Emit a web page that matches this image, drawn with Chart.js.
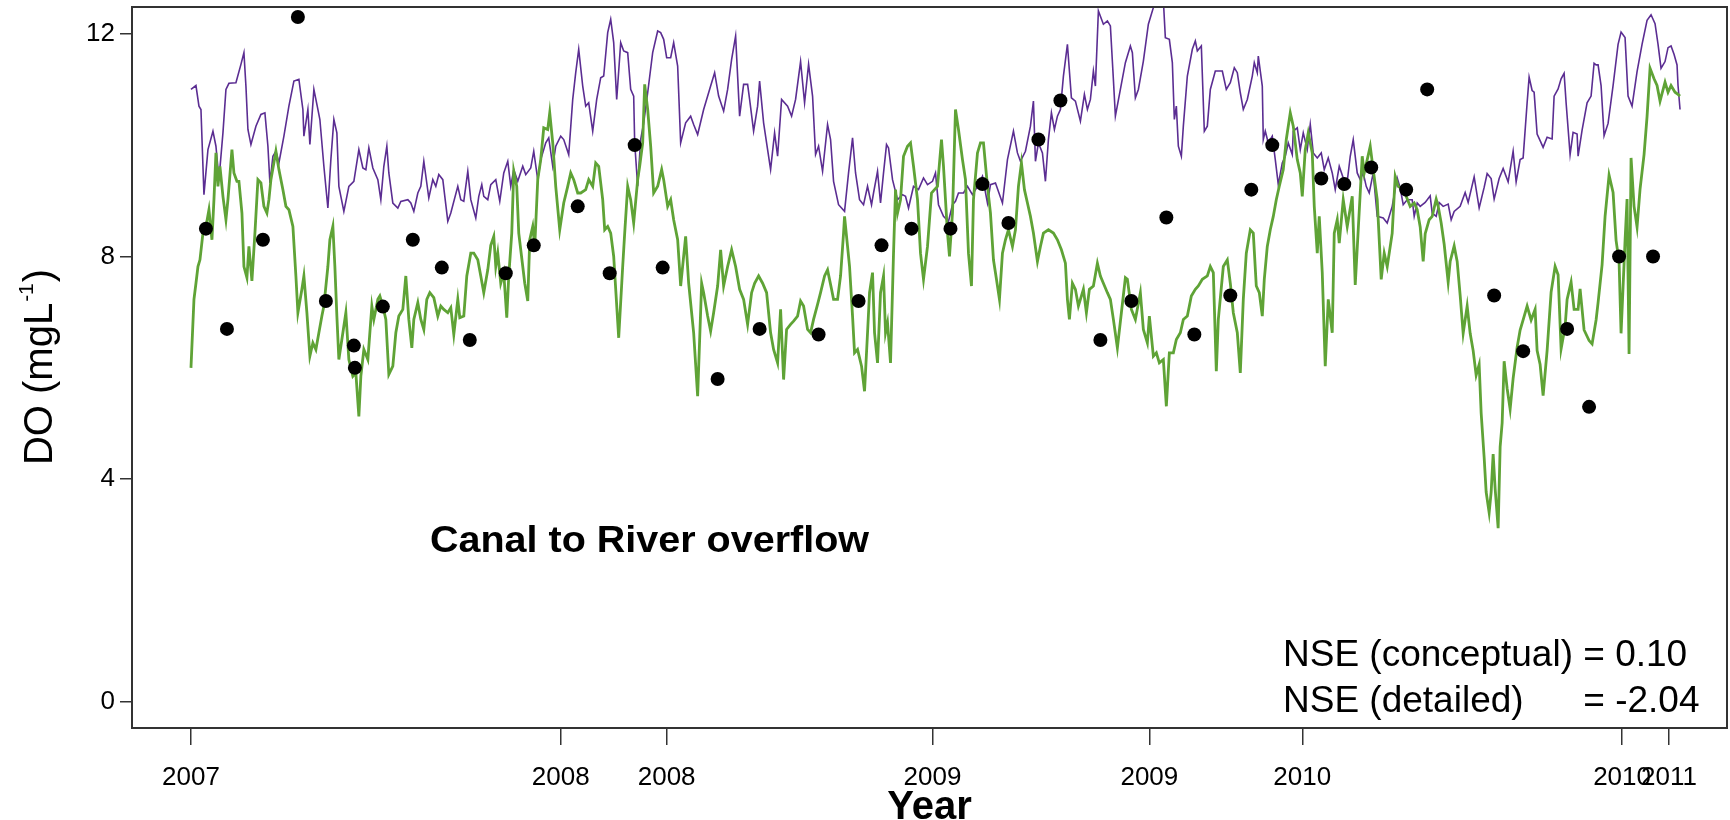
<!DOCTYPE html>
<html>
<head>
<meta charset="utf-8">
<title>DO - Canal to River overflow</title>
<script src="https://cdn.jsdelivr.net/npm/chart.js@4.4.1/dist/chart.umd.min.js"></script>
<style>
  html, body { margin: 0; padding: 0; background: #fff; }
  canvas { display: block; }
</style>
</head>
<body>
<canvas id="doChart" width="1730" height="820"></canvas>
<script>
// days since 1 Jan 2007
const tickDays = [0, 370, 476, 742, 959, 1112, 1432, 1479];
const tickLabels = ['2007', '2008', '2008', '2009', '2009', '2010', '2010', '2011'];
const yTicks = [0, 4, 8, 12];

// purple line (conceptual model)
const conceptualDay = [
  0,5,8,10,13,17,22,25,28,32,35,38,45,50,53,55,57,60,65,70,74,77,79,82,85,88,93,98,103,108,112,113,117,119,123,127,129,133,137,140,143,146,148,153,158,163,168,172,175,178,182,187,190,193,196,198,202,207,210,217,220,223,227,230,233,238,242,245,248,252,257,260,267,270,273,277,280,285,288,291,293,297,
  300,305,309,313,317,320,323,327,332,335,340,343,347,350,355,358,362,365,370,373,378,382,385,388,392,395,398,402,406,410,413,417,420,423,426,430,433,437,440,443,444,447,450,453,457,462,467,470,473,476,480,483,487,490,495,500,503,507,513,520,524,528,533,537,541,545,549,553,557,559,563,567,569,573,577,580,584,587,591,597,601,605,
  610,614,618,622,625,628,632,637,640,643,648,654,658,662,665,669,673,677,681,683,687,690,693,696,698,702,707,712,715,718,723,728,733,737,742,745,748,753,758,762,765,768,773,777,782,787,792,797,800,805,812,817,823,827,830,835,840,843,845,848,852,855,858,861,864,867,870,873,877,881,885,890,894,897,900,903,905,908,913,917,
  920,923,925,930,935,940,942,945,948,953,958,963,970,973,975,979,982,984,986,988,991,993,997,1002,1005,1007,1011,1014,1017,1020,1025,1032,1036,1040,1044,1047,1050,1053,1057,1062,1064,1067,1068,1072,1073,1075,1078,1082,1085,1088,1092,1095,1098,1102,1103,1107,1110,1113,1117,1120,1123,1127,1131,1134,1138,1142,1145,1149,1153,1157,1160,1163,1167,1170,1173,1176,1179,1183,1187,1193,1197,1202,1207,1210,1213,1217,1222,1224,1227,
  1230,1235,1240,1242,1246,1249,1253,1258,1261,1264,1270,1275,1278,1284,1289,1294,1297,1301,1304,1309,1313,1318,1323,1326,1330,1333,1337,1339,1342,1344,1347,1350,1353,1357,1362,1364,1368,1371,1374,1376,1380,1383,1387,1388,1392,1397,1401,1404,1406,1408,1411,1414,1418,1423,1428,1431,1435,1438,1442,1447,1452,1457,1461,1465,1468,1471,1475,1478,1481,1484,1487,1488,1490
];
const conceptualDO = [
  11.00,11.07,10.70,10.64,9.11,9.92,10.25,9.98,9.38,10.22,11.00,11.11,11.12,11.45,11.66,11.06,10.28,10.01,10.34,10.55,10.58,9.98,9.32,9.80,9.89,9.68,10.16,10.70,11.15,11.18,10.64,10.16,10.64,10.01,11.00,10.64,10.46,9.62,8.87,9.74,10.46,10.22,9.26,8.81,9.26,9.35,9.92,9.59,9.56,9.95,9.59,9.38,9.02,9.62,9.98,9.50,8.96,8.87,8.99,9.02,8.96,8.81,9.14,9.26,9.71,9.05,9.38,9.26,9.47,9.38,8.63,8.78,9.26,9.02,8.99,9.53,9.02,8.69,9.08,9.29,9.08,9.02,
  9.29,9.38,8.99,9.50,9.71,9.26,9.56,9.35,9.62,9.47,9.59,9.89,9.38,9.74,10.04,10.13,9.62,9.98,10.16,10.10,9.83,10.82,11.30,11.72,11.06,10.70,10.76,10.25,10.82,11.21,11.24,12.02,12.26,11.84,10.82,11.84,11.69,11.66,11.00,10.88,10.04,9.26,10.10,10.40,10.94,11.66,12.05,12.02,11.90,11.57,11.57,11.84,11.42,10.04,10.40,10.52,10.37,10.19,10.64,11.06,11.30,10.88,10.61,11.00,11.54,11.96,10.52,11.09,11.09,10.82,10.25,10.70,11.15,10.40,9.92,9.56,10.22,9.80,10.82,10.70,10.52,10.82,
  11.50,10.76,11.45,10.88,9.83,9.98,9.53,10.37,10.10,9.35,8.93,8.81,9.50,10.13,9.50,9.02,8.93,9.26,8.93,9.14,9.53,8.96,9.50,10.01,9.95,9.38,9.02,9.11,9.08,8.87,9.26,9.20,9.41,9.29,9.35,9.50,8.93,8.72,8.63,8.93,8.99,9.14,9.14,9.26,9.11,9.26,9.44,8.96,9.29,9.32,8.96,9.74,10.25,9.86,9.71,9.89,10.34,10.79,9.71,10.04,9.86,9.35,10.10,10.58,10.28,10.52,10.64,11.24,11.81,10.85,10.79,10.43,10.91,10.64,10.82,11.33,11.06,12.41,12.17,12.23,
  12.14,11.18,10.52,11.00,11.48,11.78,11.66,10.85,11.00,11.51,12.17,12.47,12.60,12.60,11.93,11.90,11.48,10.46,10.70,9.98,9.80,10.34,11.24,11.72,11.87,11.69,11.78,10.25,10.34,11.00,11.33,11.33,11.00,11.12,11.39,11.30,10.94,10.64,10.82,11.24,11.48,11.30,11.60,11.06,10.10,10.25,10.04,10.16,9.74,9.29,9.68,9.80,10.04,9.83,10.25,10.31,9.92,10.22,9.92,10.37,9.86,9.77,9.86,9.56,9.77,9.50,9.20,9.62,9.41,9.35,9.80,10.10,9.50,9.38,9.50,9.26,9.14,9.50,8.72,8.69,8.60,8.90,9.41,9.23,8.93,9.02,9.02,8.72,8.96,
  8.90,8.97,9.09,8.78,8.72,8.97,8.90,8.94,8.66,8.81,8.90,9.15,8.97,9.43,8.87,9.24,9.49,9.40,9.03,9.40,9.58,9.34,9.89,9.34,9.74,9.77,10.76,11.22,10.98,10.95,10.20,10.08,9.96,10.14,10.11,10.88,11.01,11.19,11.29,10.76,9.83,10.23,10.20,9.80,10.27,10.76,10.88,11.47,11.44,11.44,11.07,10.17,10.39,11.07,11.81,12.03,11.93,10.88,10.70,11.32,11.81,12.24,12.34,12.18,11.81,11.38,11.50,11.75,11.78,11.63,11.44,11.07,10.64
];

// green line (detailed model)
const detailedDay = [
  0,3,5,7,9,12,15,18,21,23,25,27,29,32,35,37,41,43,46,48,51,53,56,58,61,64,67,70,73,76,78,80,85,88,92,95,98,102,105,107,111,113,116,119,122,125,128,131,133,137,139,142,144,146,148,152,155,158,162,165,168,170,173,177,181,183,187,189,192,195,198,202,205,208,212,215,218,221,223,227,230,233,236,239,243,247,250,253,257,260,263,267,269,273,276,280,283,287,290,293,297,
  300,303,305,307,310,313,316,318,321,323,326,328,332,334,337,339,342,344,347,350,353,357,359,362,365,369,373,377,380,383,387,390,395,398,402,405,408,412,414,417,420,423,428,432,434,437,440,443,447,449,452,454,457,460,463,467,471,473,477,480,483,487,490,495,498,503,507,511,513,517,520,523,527,530,533,537,541,545,549,553,557,561,564,568,572,576,580,583,587,590,593,596,600,603,607,
  610,613,617,620,623,627,630,634,637,641,643,647,650,653,654,657,659,662,664,667,671,674,677,679,682,684,687,690,693,695,697,700,703,705,707,710,713,717,720,723,727,730,733,737,741,744,747,751,753,757,759,762,765,768,772,775,778,781,783,787,790,793,797,800,803,806,809,812,815,818,822,825,828,831,834,837,840,843,847,850,853,858,863,867,871,875,877,879,882,885,888,893,896,899,903,907,910,913,917,
  920,923,927,931,935,937,941,945,950,953,957,959,963,966,969,973,976,979,983,986,990,993,997,1001,1005,1008,1012,1017,1020,1023,1026,1028,1033,1037,1040,1043,1047,1050,1053,1056,1060,1063,1066,1069,1072,1074,1077,1080,1083,1086,1089,1093,1096,1100,1103,1107,1110,1112,1115,1118,1122,1124,1127,1129,1132,1135,1138,1142,1144,1147,1149,1153,1157,1162,1165,1168,1172,1174,1177,1180,1183,1187,1191,1194,1197,1202,1205,1208,1213,1216,1220,1224,1227,
  1230,1233,1235,1239,1242,1246,1248,1251,1254,1258,1260,1264,1267,1270,1273,1277,1280,1283,1286,1289,1291,1294,1296,1299,1301,1303,1305,1308,1310,1312,1314,1317,1320,1323,1327,1330,1333,1337,1341,1345,1347,1350,1353,1357,1361,1365,1368,1371,1375,1377,1381,1384,1388,1390,1394,1399,1402,1406,1408,1412,1415,1419,1423,1426,1429,1431,1435,1437,1439,1441,1444,1447,1450,1454,1457,1460,1464,1467,1470,1475,1478,1481,1485,1488,1490
];
const detailedDO = [
  6.00,7.23,7.52,7.82,7.94,8.42,8.54,8.84,8.30,9.02,9.86,9.26,9.62,9.08,8.66,9.02,9.92,9.50,9.35,9.35,8.78,7.82,7.62,8.18,7.56,8.42,9.38,9.32,8.90,8.78,9.02,9.38,9.89,9.56,9.20,8.90,8.84,8.54,7.65,6.99,7.41,7.65,6.99,6.21,6.45,6.33,6.63,6.93,7.11,7.82,8.30,8.54,7.82,6.93,6.15,6.63,6.99,6.15,5.85,5.91,5.13,5.85,6.33,6.15,7.11,6.87,7.23,7.29,7.11,6.87,5.88,6.03,6.63,6.93,7.05,7.65,6.87,6.36,6.87,7.17,6.87,6.69,7.23,7.35,7.26,6.93,7.11,7.05,6.99,7.08,6.60,7.23,6.90,6.93,7.65,8.06,8.06,7.94,7.65,7.35,7.76,
  8.20,8.36,7.82,8.06,7.52,7.71,6.90,7.65,8.42,9.53,9.26,8.42,7.82,7.52,7.20,8.30,8.54,8.18,9.38,9.74,10.31,10.28,10.58,10.04,9.26,8.48,8.96,9.26,9.50,9.38,9.14,9.14,9.20,9.38,9.26,9.68,9.62,9.02,8.48,8.54,8.42,8.00,6.54,7.82,8.42,9.26,9.02,8.60,9.38,9.62,10.04,11.09,10.64,9.98,9.14,9.26,9.56,9.38,8.90,9.02,8.66,8.30,7.47,8.36,7.52,6.63,5.49,7.52,7.35,6.93,6.66,6.99,7.47,8.12,7.47,7.82,8.12,7.82,7.41,7.23,6.78,7.35,7.52,7.65,7.52,7.35,6.63,6.33,6.09,7.05,5.79,6.69,6.78,6.84,6.93,
  7.20,7.11,6.69,6.63,6.87,7.14,7.35,7.65,7.76,7.41,7.23,7.23,7.65,8.42,8.72,8.18,7.82,6.93,6.27,6.33,6.03,5.58,6.63,7.35,7.71,6.63,6.09,7.35,7.65,6.63,6.81,6.09,8.06,9.20,8.78,9.02,9.80,9.98,10.04,9.62,9.02,8.06,7.59,8.18,9.14,9.20,9.26,10.10,9.62,8.42,8.00,8.78,10.64,10.28,9.74,9.38,8.06,7.47,9.02,9.86,10.04,10.04,9.26,8.78,7.94,7.59,7.23,8.06,8.30,8.48,8.18,8.48,9.26,9.68,9.20,8.96,8.72,8.42,7.91,8.18,8.42,8.48,8.42,8.30,8.12,7.88,7.23,6.87,7.52,7.41,7.11,7.41,6.99,7.41,7.47,7.88,7.65,7.52,7.35,
  7.23,6.87,6.36,6.99,7.62,7.59,7.05,6.87,7.35,6.69,6.45,6.93,6.21,6.27,6.09,6.15,5.31,6.27,6.27,6.51,6.63,6.87,6.93,7.29,7.41,7.47,7.59,7.65,7.82,7.71,5.94,6.87,7.82,7.94,7.52,6.99,6.63,5.91,7.23,8.06,8.48,8.42,7.47,7.35,6.93,7.59,8.18,8.48,8.72,9.02,9.26,9.56,10.10,10.58,10.34,9.74,9.50,9.08,9.92,10.22,9.86,8.90,8.06,8.72,7.71,6.03,7.23,6.63,8.42,8.66,8.24,9.02,8.54,9.08,7.49,8.48,9.80,9.50,9.74,9.98,9.56,9.02,7.59,8.06,7.82,8.42,9.44,9.26,9.20,9.08,8.90,8.96,8.84,
  8.53,7.91,8.41,8.66,8.72,9.03,8.90,8.60,8.22,7.54,7.91,8.19,7.91,7.30,6.62,7.11,6.62,6.31,5.87,6.06,5.19,4.39,3.77,3.40,3.77,4.45,3.83,3.12,4.58,5.01,6.12,5.63,5.26,5.81,6.37,6.68,6.86,7.11,6.86,7.05,6.31,6.06,5.50,6.31,7.36,7.82,7.67,6.34,6.74,7.23,7.54,7.05,7.05,7.42,6.68,6.49,6.43,6.86,7.17,7.85,8.72,9.46,9.15,8.29,7.91,6.62,8.29,9.03,6.25,9.77,8.90,8.53,9.21,9.83,10.51,11.38,11.19,11.07,10.79,11.13,10.95,11.07,10.95,10.91,10.88
];

// black dots (observed)
const obsDay = [15,36,72,107,135,163,164,192,222,251,279,315,343,387,419,444,472,527,569,628,668,691,721,760,792,818,848,870,910,941,976,1004,1040,1061,1082,1131,1154,1181,1216,1237,1304,1333,1377,1399,1429,1463];
const obsDO = [8.5,6.7,8.3,12.3,7.2,6.4,6.0,7.1,8.3,7.8,6.5,7.7,8.2,8.9,7.7,10.0,7.8,5.8,6.7,6.6,7.2,8.2,8.5,8.5,9.3,8.6,10.1,10.8,6.5,7.2,8.7,6.6,7.3,9.2,10.0,9.4,9.3,9.6,9.2,11.0,7.3,6.3,6.7,5.3,8.0,8.0];

const FONT = "'Liberation Sans', Arial, Helvetica, sans-serif";

function toXY(xs, ys) {
  return xs.map((x, i) => ({ x: x, y: ys[i] }));
}

// draw text stretched to a given width
function fitText(ctx, text, x, y, width) {
  const w = ctx.measureText(text).width;
  ctx.save();
  ctx.translate(x, y);
  ctx.scale(width / w, 1);
  ctx.fillText(text, 0, 0);
  ctx.restore();
}

// box around plot + text labels
const extras = {
  id: 'extras',
  afterDraw(chart) {
    const ctx = chart.ctx;
    const a = chart.chartArea;
    ctx.save();
    ctx.strokeStyle = '#333';
    ctx.lineWidth = 2;
    ctx.strokeRect(a.left, a.top, a.right - a.left, a.bottom - a.top);

    ctx.fillStyle = '#000';
    ctx.textBaseline = 'alphabetic';
    ctx.textAlign = 'left';

    ctx.font = 'bold 37px ' + FONT;
    fitText(ctx, 'Canal to River overflow', 430, 552, 439);

    ctx.font = '37px ' + FONT;
    ctx.fillText('NSE (conceptual) = 0.10', 1283, 666);
    const eqX = 1283 + ctx.measureText('NSE (conceptual) ').width;
    ctx.fillText('NSE (detailed)', 1283, 712);
    ctx.fillText('= -2.04', eqX, 712);

    ctx.textAlign = 'center';
    ctx.font = 'bold 40px ' + FONT;
    ctx.fillText('Year', (a.left + a.right) / 2, 819);

    // y title with superscript
    ctx.translate(52, 368);
    ctx.rotate(-Math.PI / 2);
    ctx.textAlign = 'left';
    const big = '40px ' + FONT, small = '21px ' + FONT;
    ctx.font = big;
    const w1 = ctx.measureText('DO (mgL').width;
    const w3 = ctx.measureText(')').width;
    ctx.font = small;
    const w2 = ctx.measureText('-1').width;
    let x0 = -(w1 + w2 + w3) / 2;
    ctx.font = big;
    ctx.fillText('DO (mgL', x0, 0);
    ctx.font = small;
    ctx.fillText('-1', x0 + w1 + 1, -19);
    ctx.font = big;
    ctx.fillText(')', x0 + w1 + w2 + 2, 0);
    ctx.restore();
  }
};

const ctx = document.getElementById('doChart').getContext('2d');
const chart = new Chart(ctx, {
  type: 'line',
  data: {
    datasets: [
      {
        label: 'observed',
        data: toXY(obsDay, obsDO),
        showLine: false,
        pointRadius: 7,
        pointBackgroundColor: '#000',
        pointBorderWidth: 0,
        borderColor: '#000'
      },
      {
        label: 'detailed',
        data: toXY(detailedDay, detailedDO),
        borderColor: '#5fa336',
        borderWidth: 2.8,
        pointRadius: 0,
        tension: 0,
        clip: 0
      },
      {
        label: 'conceptual',
        data: toXY(conceptualDay, conceptualDO),
        borderColor: '#5b2d92',
        borderWidth: 1.6,
        pointRadius: 0,
        tension: 0,
        clip: 0
      }
    ]
  },
  options: {
    responsive: false,
    animation: false,
    events: [],
    layout: { autoPadding: false, padding: { left: 0, right: 3, top: 7, bottom: 0 } },
    plugins: { legend: { display: false }, tooltip: { enabled: false } },
    scales: {
      x: {
        type: 'linear',
        min: -59,
        max: 1537,
        afterBuildTicks: s => { s.ticks = tickDays.map(v => ({ value: v })); },
        afterFit: s => { s.height = 92; s.paddingLeft = 0; s.paddingRight = 0; },
        ticks: {
          autoSkip: false,
          maxRotation: 0,
          padding: 17,
          color: '#000',
          font: { family: FONT, size: 26 },
          callback: (v, i) => tickLabels[i]
        },
        grid: { drawOnChartArea: false, tickLength: 17, color: '#333', lineWidth: 1.5 },
        border: { display: false }
      },
      y: {
        min: -0.467,
        max: 12.48,
        afterBuildTicks: s => { s.ticks = yTicks.map(v => ({ value: v })); },
        afterFit: s => { s.width = 132; s.paddingTop = 0; s.paddingBottom = 0; },
        ticks: {
          padding: 5,
          color: '#000',
          font: { family: FONT, size: 26 }
        },
        grid: { drawOnChartArea: false, tickLength: 12, color: '#333', lineWidth: 1.5 },
        border: { display: false }
      }
    }
  },
  plugins: [extras]
});
</script>
</body>
</html>
